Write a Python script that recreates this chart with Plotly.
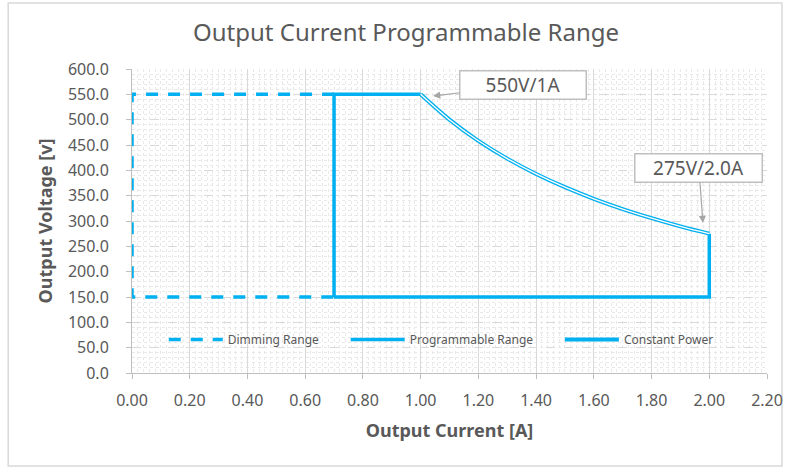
import plotly.graph_objects as go

# Data
dim_x = [0.7, 0.0, 0.0, 0.7]
dim_y = [550, 550, 150, 150]
prog_x = [0.7, 0.7, 1.0, None, 0.7, 2.0, 2.0]
prog_y = [150, 550, 550, None, 150, 150, 275]
cp_x = [1.0, 1.1, 1.2, 1.3, 1.4, 1.5, 1.6, 1.7, 1.8, 1.9, 2.0]
cp_y = [550, 500, 458.3, 423.1, 392.9, 366.7, 343.8, 323.5, 305.6, 289.5, 275]
x_ticks = [0.0, 0.2, 0.4, 0.6, 0.8, 1.0, 1.2, 1.4, 1.6, 1.8, 2.0, 2.2]
y_ticks = [0, 50, 100, 150, 200, 250, 300, 350, 400, 450, 500, 550, 600]

BLUE = "#00B0F0"
GRAY = "#595959"
FONT = "Noto Sans"
PAD = "\u00a0" * 7

fig = go.Figure()
fig.add_trace(go.Scatter(x=dim_x, y=dim_y, mode="lines", name="Dimming Range" + PAD,
                         line=dict(color=BLUE, width=3.5, dash="12px,10px")))
fig.add_trace(go.Scatter(x=prog_x, y=prog_y, mode="lines", name="Programmable Range" + PAD,
                         line=dict(color=BLUE, width=3.5), connectgaps=False))
fig.add_trace(go.Scatter(x=cp_x, y=cp_y, mode="lines", name="Constant Power",
                         line=dict(color=BLUE, width=4, shape="spline")))
fig.add_trace(go.Scatter(x=cp_x, y=cp_y, mode="lines", showlegend=False, hoverinfo="skip",
                         line=dict(color="white", width=1.3, shape="spline")))

fig.update_layout(
    width=790, height=471,
    margin=dict(l=132, r=23, t=69, b=98),
    paper_bgcolor="white", plot_bgcolor="white",
    font=dict(family=FONT, color=GRAY),
    title=dict(text="Output Current Programmable Range", x=0.514, xanchor="center",
               xref="container", y=0.93, yanchor="middle",
               font=dict(size=24, color=GRAY, family=FONT)),
    showlegend=True,
    legend=dict(orientation="h", x=0.05, y=0.11, xanchor="left", yanchor="middle",
                bgcolor="rgba(0,0,0,0)", font=dict(size=12, color=GRAY),
                itemwidth=54),
)

fig.update_xaxes(
    range=[0, 2.2], tickvals=x_ticks, tickformat=".2f", automargin=False,
    showgrid=True, gridcolor="#D9D9D9", gridwidth=1,
    minor=dict(dtick=0.02, showgrid=True, gridcolor="#E9E9E9", griddash="dot", gridwidth=1),
    showline=True, linecolor="#BFBFBF", linewidth=1,
    ticks="outside", ticklen=5, tickcolor="#BFBFBF", ticklabelstandoff=8,
    tickfont=dict(size=16, color=GRAY, family=FONT),
    title=dict(text="<b>Output Current [A]</b>", font=dict(size=18, color=GRAY, family=FONT), standoff=14),
    zeroline=False, mirror=False,
)
fig.update_yaxes(
    range=[0, 600], tickvals=y_ticks, tickformat=".1f", automargin=False,
    showgrid=True, gridcolor="#D9D9D9", gridwidth=1, griddash="dash",
    minor=dict(dtick=10, showgrid=True, gridcolor="#E9E9E9", griddash="dot", gridwidth=1),
    showline=True, linecolor="#BFBFBF", linewidth=1,
    ticks="outside", ticklen=5, tickcolor="#BFBFBF", ticklabelstandoff=14,
    tickfont=dict(size=16, color=GRAY, family=FONT),
    title=dict(text="<b>Output Voltage [v]</b>", font=dict(size=18, color=GRAY, family=FONT), standoff=10),
    zeroline=False,
)

# outer chart border
fig.add_shape(type="rect", xref="paper", yref="paper",
              x0=-0.195, x1=1.0236, y0=-0.306, y1=1.217,
              line=dict(color="#D9D9D9", width=1.5), fillcolor="rgba(0,0,0,0)", layer="below")

fig.add_annotation(x=1.043, y=546.7, xref="x", yref="y", text="550V/1A",
                   showarrow=True, arrowhead=2, arrowsize=1.2, arrowwidth=1.2, arrowcolor="#A6A6A6",
                   ax=90, ay=-11, bgcolor="white", bordercolor="#BFBFBF", borderwidth=1.5,
                   width=123, height=25, font=dict(size=19, color=GRAY, family=FONT))
fig.add_annotation(x=1.978, y=296, xref="x", yref="y", text="275V/2.0A",
                   showarrow=True, arrowhead=2, arrowsize=1.2, arrowwidth=1.2, arrowcolor="#A6A6A6",
                   ax=-4, ay=-55, bgcolor="white", bordercolor="#BFBFBF", borderwidth=1.5,
                   width=124, height=25, font=dict(size=19, color=GRAY, family=FONT))

fig.write_html("out.html", config={"displayModeBar": False},
               post_script="document.body.style.margin='0';document.body.style.overflow='hidden';")
